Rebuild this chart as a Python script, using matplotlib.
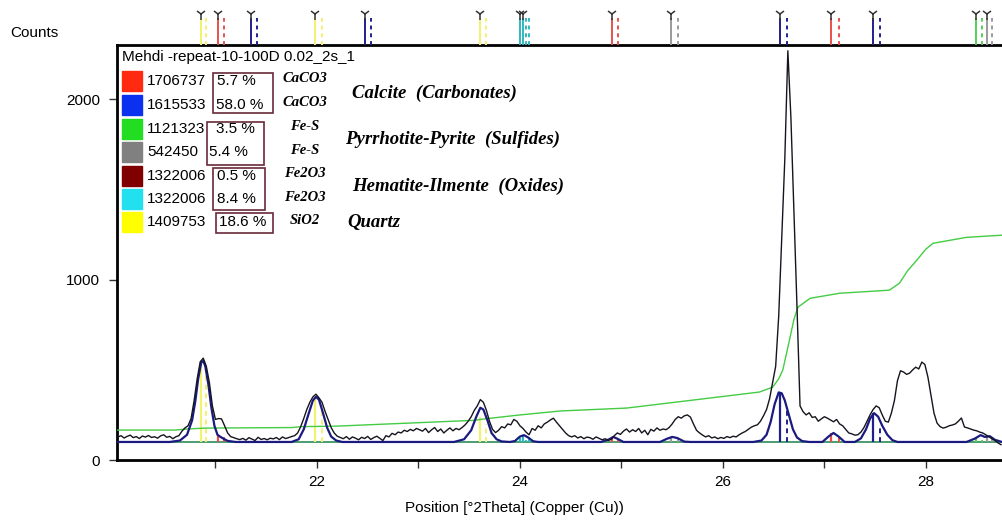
import matplotlib

matplotlib.use("Agg")

import matplotlib.pyplot as plt
import numpy as np
from matplotlib.patches import Rectangle

W, H = 1002, 521

# scan grid: 20.04 .. 28.74 deg 2theta, step 0.03
scan_start, scan_step = 20.04, 0.03
observed = [
    128, 135, 122, 131, 138, 124, 130, 119, 133, 127,
    136, 125, 129, 121, 134, 140, 126, 131, 118, 129,
    135, 160, 178, 190, 230, 330, 450, 545, 565, 520,
    430, 300, 225, 230, 228, 190, 150, 130, 124, 118,
    113, 120, 110, 124, 116, 108, 126, 114, 119, 112,
    121, 117, 125, 113, 128, 119, 124, 130, 135, 150,
    185, 230, 280, 320, 350, 365, 345, 320, 270, 225,
    180, 150, 132, 125, 118, 130, 115, 128, 121, 112,
    126, 119, 131, 114, 124, 132, 120, 108, 135, 128,
    148, 140, 155, 150, 165, 158, 170, 162, 175, 168,
    160, 175, 152, 168, 180, 158, 172, 150, 165, 178,
    162, 175, 168, 180, 195, 215, 240, 275, 300, 335,
    320, 275, 215, 170, 152, 165, 185, 178, 200, 195,
    225, 215, 190, 175, 155, 140, 175, 165, 190, 178,
    200, 210, 222, 232, 210, 190, 170, 150, 135, 128,
    135, 122, 130, 118, 127, 124, 115, 128, 120, 112,
    118, 108, 115, 135, 150, 142, 160, 172, 155, 168,
    158, 175, 150, 165, 140, 170, 160, 178, 165, 172,
    168, 180, 200, 225, 240, 232, 245, 250, 238, 200,
    165, 150, 138, 128, 135, 122, 128, 118, 125, 120,
    130, 124, 132, 128, 140, 150, 158, 170, 182, 190,
    195, 215, 245, 280, 340, 430, 520, 800, 1230, 1670,
    2270, 1900, 1380, 850, 300, 268, 250, 262, 236, 240,
    215, 228, 240, 232, 222, 212, 225, 200, 190, 170,
    150, 145, 138, 140, 155, 180, 215, 250, 280, 300,
    290, 250, 215, 210, 260, 330, 440, 495, 488, 475,
    482, 500, 515, 505, 543, 530, 460, 360, 260, 205,
    185, 177, 182, 190, 194, 200, 215, 233, 183, 178,
    172, 166, 162, 155, 150, 140, 130, 118, 108, 95,
    85,
]

calc_x = [
    20.03, 20.55, 20.65, 20.72, 20.77, 20.80, 20.83, 20.86, 20.88, 20.90,
    20.93, 20.96, 20.99, 21.02, 21.05, 21.08, 21.12, 21.20,
    21.75, 21.82, 21.87, 21.92, 21.96, 21.99, 22.02, 22.06, 22.10, 22.14,
    22.19, 22.25,
    23.35, 23.45, 23.52, 23.57, 23.61, 23.64, 23.68, 23.72, 23.77, 23.82, 23.90,
    23.95, 24.00, 24.04, 24.08, 24.13, 24.18,
    24.80, 24.88, 24.92, 24.96, 25.02,
    25.38, 25.45, 25.50, 25.55, 25.62, 25.68,
    26.30, 26.38, 26.43, 26.47, 26.51, 26.55, 26.58, 26.61, 26.65, 26.69,
    26.73, 26.78, 26.85,
    26.98, 27.04, 27.09, 27.14, 27.20,
    27.30, 27.36, 27.41, 27.45, 27.49, 27.53, 27.57, 27.62, 27.67, 27.72,
    28.40, 28.48, 28.54, 28.58, 28.63, 28.68, 28.75,
]
calc_y = [
    100, 100, 108, 140, 220, 320, 450, 540, 550, 520,
    420, 290, 190, 140, 128, 118, 106, 100,
    100, 115, 170, 260, 330, 350, 335, 260, 180, 130,
    108, 100,
    100, 115, 165, 240, 290, 280, 220, 150, 115, 103, 100,
    105, 130, 138, 125, 104, 100,
    100, 115, 128, 118, 100,
    100, 118, 128, 122, 102, 100,
    100, 108, 140, 210, 310, 375, 370, 330, 250, 170,
    125, 105, 100,
    100, 130, 150, 130, 100,
    100, 120, 170, 230, 260, 240, 190, 140, 110, 100,
    100, 118, 138, 128, 132, 112, 100,
]

sum_x = [20.03, 20.60, 20.72, 20.90, 21.75, 21.85, 22.20, 23.55, 23.65, 24.00,
         24.40, 25.05, 25.70, 26.36, 26.49, 26.55, 26.59, 26.65, 26.70, 26.74,
         26.86, 27.15, 27.64, 27.74, 27.82, 27.91, 28.00, 28.07, 28.40, 28.75]
sum_y = [166, 166, 172, 177, 180, 185, 188, 220, 228, 250,
         272, 288, 332, 377, 404, 450, 499, 650, 780, 848,
         897, 925, 942, 981, 1050, 1108, 1170, 1202, 1235, 1247]
background = 100

phase_colors = ["#ff2a10", "#0a30f0", "#22dd22", "#808080", "#800000", "#22e0ee", "#ffff00"]
ref_codes = ["1706737", "1615533", "1121323", "542450", "1322006", "1322006", "1409753"]
percents = ["5.7 %", "58.0 %", "3.5 %", "5.4 %", "0.5 %", "8.4 %", "18.6 %"]
formulas = ["CaCO3", "CaCO3", "Fe-S", "Fe-S", "Fe2O3", "Fe2O3", "SiO2"]
groups = ["Calcite  (Carbonates)", "Pyrrhotite-Pyrite  (Sulfides)",
          "Hematite-Ilmente  (Oxides)", "Quartz"]
title = "Mehdi -repeat-10-100D 0.02_2s_1"

# reference lines (K-alpha1 / K-alpha2), phase index into phase_colors
stick_pos = [20.86, 21.03, 21.35, 21.98, 22.47, 23.61, 24.00, 24.03, 24.91, 25.49,
             26.56, 27.07, 27.48, 28.49, 28.60]
stick_ka2 = [20.91, 21.08, 21.41, 22.05, 22.53, 23.67, 24.06, 24.09, 24.97, 25.56,
             26.63, 27.14, 27.55, 28.55, 28.65]
stick_phase = [6, 0, 1, 6, 1, 6, 5, 5, 0, 3, 1, 0, 1, 2, 3]
stick_int = [520, 140, 104, 345, 103, 240, 120, 140, 130, 128, 375, 150, 260, 120, 130]
stick_int2 = [480, 125, 102, 300, 102, 200, 110, 125, 118, 118, 280, 130, 195, 112, 118]

stick_draw = {0: "#e8504a", 1: "#20208a", 2: "#55d055", 3: "#9a9a9a",
              4: "#7a2020", 5: "#30b8c0", 6: "#f4f070"}

plt.rcParams["font.family"] = ["Liberation Sans", "DejaVu Sans"]
serif_bi = dict(family="Liberation Serif", weight="bold", style="italic")

fig = plt.figure(figsize=(W / 100, H / 100), dpi=100)


def fx(px):
    return px / W


def fy(py):
    return 1 - py / H


ax = fig.add_axes([fx(117), fy(460), (W - 117) / W, (460 - 45) / H])
ax.set_xlim(20.03, 28.75)
ax.set_ylim(0, 2302)

two_theta = scan_start + scan_step * np.arange(len(observed))
colors = [stick_draw[p] for p in stick_phase]

ax.axhline(background, color="#2e8b57", lw=1.2, zorder=2)
ax.vlines(stick_pos, background, stick_int, colors=colors, lw=1.6, zorder=3)
ax.vlines(stick_ka2, background, stick_int2, colors=colors, lw=1.4,
          linestyles=(0, (2.5, 2)), zorder=3)
ax.plot(sum_x, sum_y, color="#44cc44", lw=1.0, zorder=4)
ax.plot(calc_x, calc_y, color="#1a1a80", lw=1.6, zorder=5)
ax.plot(two_theta, observed, color="#15151f", lw=1.0, zorder=6)

for side in ("left", "bottom", "top"):
    ax.spines[side].set_linewidth(2)
ax.spines["right"].set_visible(False)
ax.set_xticks([22, 24, 26, 28])
ax.set_xticks([21, 23, 25, 27], minor=True)
ax.set_yticks([0, 1000, 2000])
ax.tick_params(which="both", length=6, width=1, labelsize=11, color="#333333")
ax.tick_params(axis="y", pad=6)
ax.tick_params(axis="x", pad=5)

# reference pattern strip above the plot
ax_top = fig.add_axes([fx(117), fy(45), (W - 117) / W, 40 / H], sharex=ax)
ax_top.set_ylim(0, 40)
ax_top.axis("off")
ax_top.vlines(stick_pos, 0, 27, colors=colors, lw=1.4)
ax_top.vlines(stick_ka2, 0, 27, colors=colors, lw=1.4, linestyles=(0, (2, 2)))
ax_top.plot(stick_pos, [31] * len(stick_pos), ls="none", marker="1",
            ms=8, mew=1.1, color="#333333")

fig.text(fx(10), fy(33), "Counts", fontsize=11, va="center")
fig.text(fx(514), fy(508), "Position [°2Theta] (Copper (Cu))", fontsize=11,
         ha="center", va="center")

# phase table
fig.text(fx(122), fy(57), title, fontsize=11, va="center")
row_y = [81, 105, 129, 152, 176, 199, 222]
pct_x = [217, 216, 216, 209, 217, 217, 219]
for i, yc in enumerate(row_y):
    fig.add_artist(Rectangle((fx(122), fy(yc + 10)), 20 / W, 20 / H,
                             transform=fig.transFigure, color=phase_colors[i]))
    fig.text(fx(147), fy(yc), ref_codes[i], fontsize=11, va="center")
    fig.text(fx(pct_x[i]), fy(yc), percents[i], fontsize=11, va="center")
    fig.text(fx(305), fy(yc - 2), formulas[i], fontsize=10.5, ha="center",
             va="center", **serif_bi)

for x0, y0, x1, y1 in [(213, 73, 273, 113), (207, 122, 264, 165),
                       (213, 168, 265, 210), (216, 213, 273, 233)]:
    fig.add_artist(Rectangle((fx(x0), fy(y1)), (x1 - x0) / W, (y1 - y0) / H,
                             transform=fig.transFigure, fill=False,
                             ec="#6a2a3a", lw=1.2))

for label, gx, gy in zip(groups, [352, 345, 352, 347], [93, 139, 186, 222]):
    fig.text(fx(gx), fy(gy), label, fontsize=13.5, va="center", **serif_bi)

fig.savefig("out.png", dpi=100)
